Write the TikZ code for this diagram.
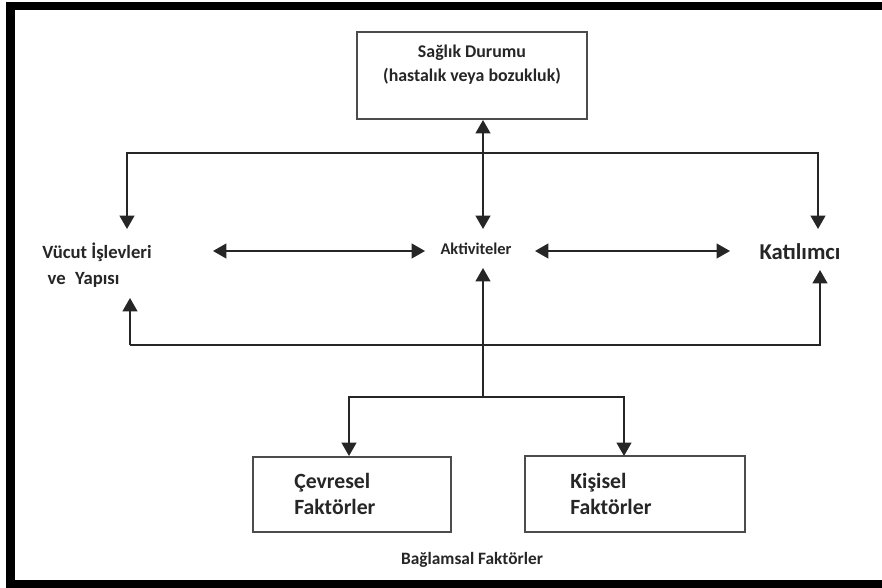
\documentclass[tikz,border=0pt]{standalone}
\usepackage{fontspec}
\setmainfont{Carlito}
\usetikzlibrary{arrows.meta}
\begin{document}
\begin{tikzpicture}[x=0.75pt,y=-0.75pt,
  ln/.style={draw=black!85,line width=1.5pt},
  arr/.style={ln,-{Triangle[width=11pt,length=10pt]}},
  darr/.style={ln,{Triangle[width=11pt,length=10pt]}-{Triangle[width=11pt,length=10pt]}},
  boxed/.style={draw=black!70,line width=1pt,inner sep=0pt},
  lbl/.style={font=\bfseries,text=black!85,inner sep=0pt}]
\useasboundingbox (0,0) rectangle (882,588);
\fill[white] (0,0) rectangle (882,588);
% frame
\fill[black] (6,2.5) rectangle (882,10);
\fill[black] (6,2.5) rectangle (15,588);
\fill[black] (6,580) rectangle (882,588);
% boxes
\node[boxed,minimum width=172.5pt,minimum height=65.25pt] (sdbox) at (472,75.5) {};
\node[lbl,align=center,font=\bfseries\fontsize{13.4}{18}\selectfont] (sd) at (472,65) {Sağlık Durumu\\(hastalık veya bozukluk)};
\node[boxed,minimum width=148.5pt,minimum height=56.25pt] (cfbox) at (352,494.5) {};
\node[boxed,minimum width=165pt,minimum height=57pt] (kfbox) at (635,494) {};
\node[lbl,align=left,anchor=west,font=\bfseries\fontsize{16.3}{20}\selectfont] (cf) at (294,494) {Çevresel\\Faktörler};
\node[lbl,align=left,anchor=west,font=\bfseries\fontsize{16.3}{20}\selectfont] (kf) at (570,494) {Kişisel\\Faktörler};
\node[lbl,font=\bfseries\fontsize{13}{15}\selectfont] (bf) at (472,560) {Bağlamsal Faktörler};
% middle row
\node[lbl,align=left,anchor=west,font=\bfseries\fontsize{14}{19.5}\selectfont] (vy) at (42,265) {Vücut İşlevleri\\\hspace{4pt}ve\hspace{4pt} Yapısı};
\node[lbl,font=\bfseries\fontsize{12.3}{14}\selectfont] (ak) at (476,249) {Aktiviteler};
\node[lbl,font=\bfseries\fontsize{17}{19}\selectfont] (ka) at (800,252) {Katılımcı};
% coordinates
\coordinate (topL) at (127,153);
\coordinate (topR) at (818,153);
\coordinate (topM) at (483,153);
\coordinate (vyTop) at (127,229);
\coordinate (kaTop) at (818,229);
\coordinate (akTop) at (483,229);
\coordinate (sdBot) at (483,120);
\coordinate (vyR) at (213,251);
\coordinate (akL) at (425,251);
\coordinate (akR) at (535,251);
\coordinate (kaL) at (730,251);
\coordinate (botL) at (130,345);
\coordinate (botR) at (820,345);
\coordinate (vyBot) at (130,298);
\coordinate (kaBot) at (820,270);
\coordinate (akBot) at (483,268);
\coordinate (stem) at (483,397);
\coordinate (brL) at (349,397);
\coordinate (brR) at (624,397);
\coordinate (cfTop) at (349,456);
\coordinate (kfTop) at (624,456);
% connectors
\draw[darr] (sdBot) -- (akTop);
\draw[arr] (topM) -- (topL) -- (vyTop);
\draw[arr] (topM) -- (topR) -- (kaTop);
\draw[darr] (vyR) -- (akL);
\draw[darr] (akR) -- (kaL);
\draw[arr] (stem) -- (akBot);
\draw[arr] (botL) -- (vyBot);
\draw[arr] (botL) -- (botR) -- (kaBot);
\draw[arr] (stem) -- (brL) -- (cfTop);
\draw[arr] (stem) -- (brR) -- (kfTop);
\end{tikzpicture}
\end{document}
